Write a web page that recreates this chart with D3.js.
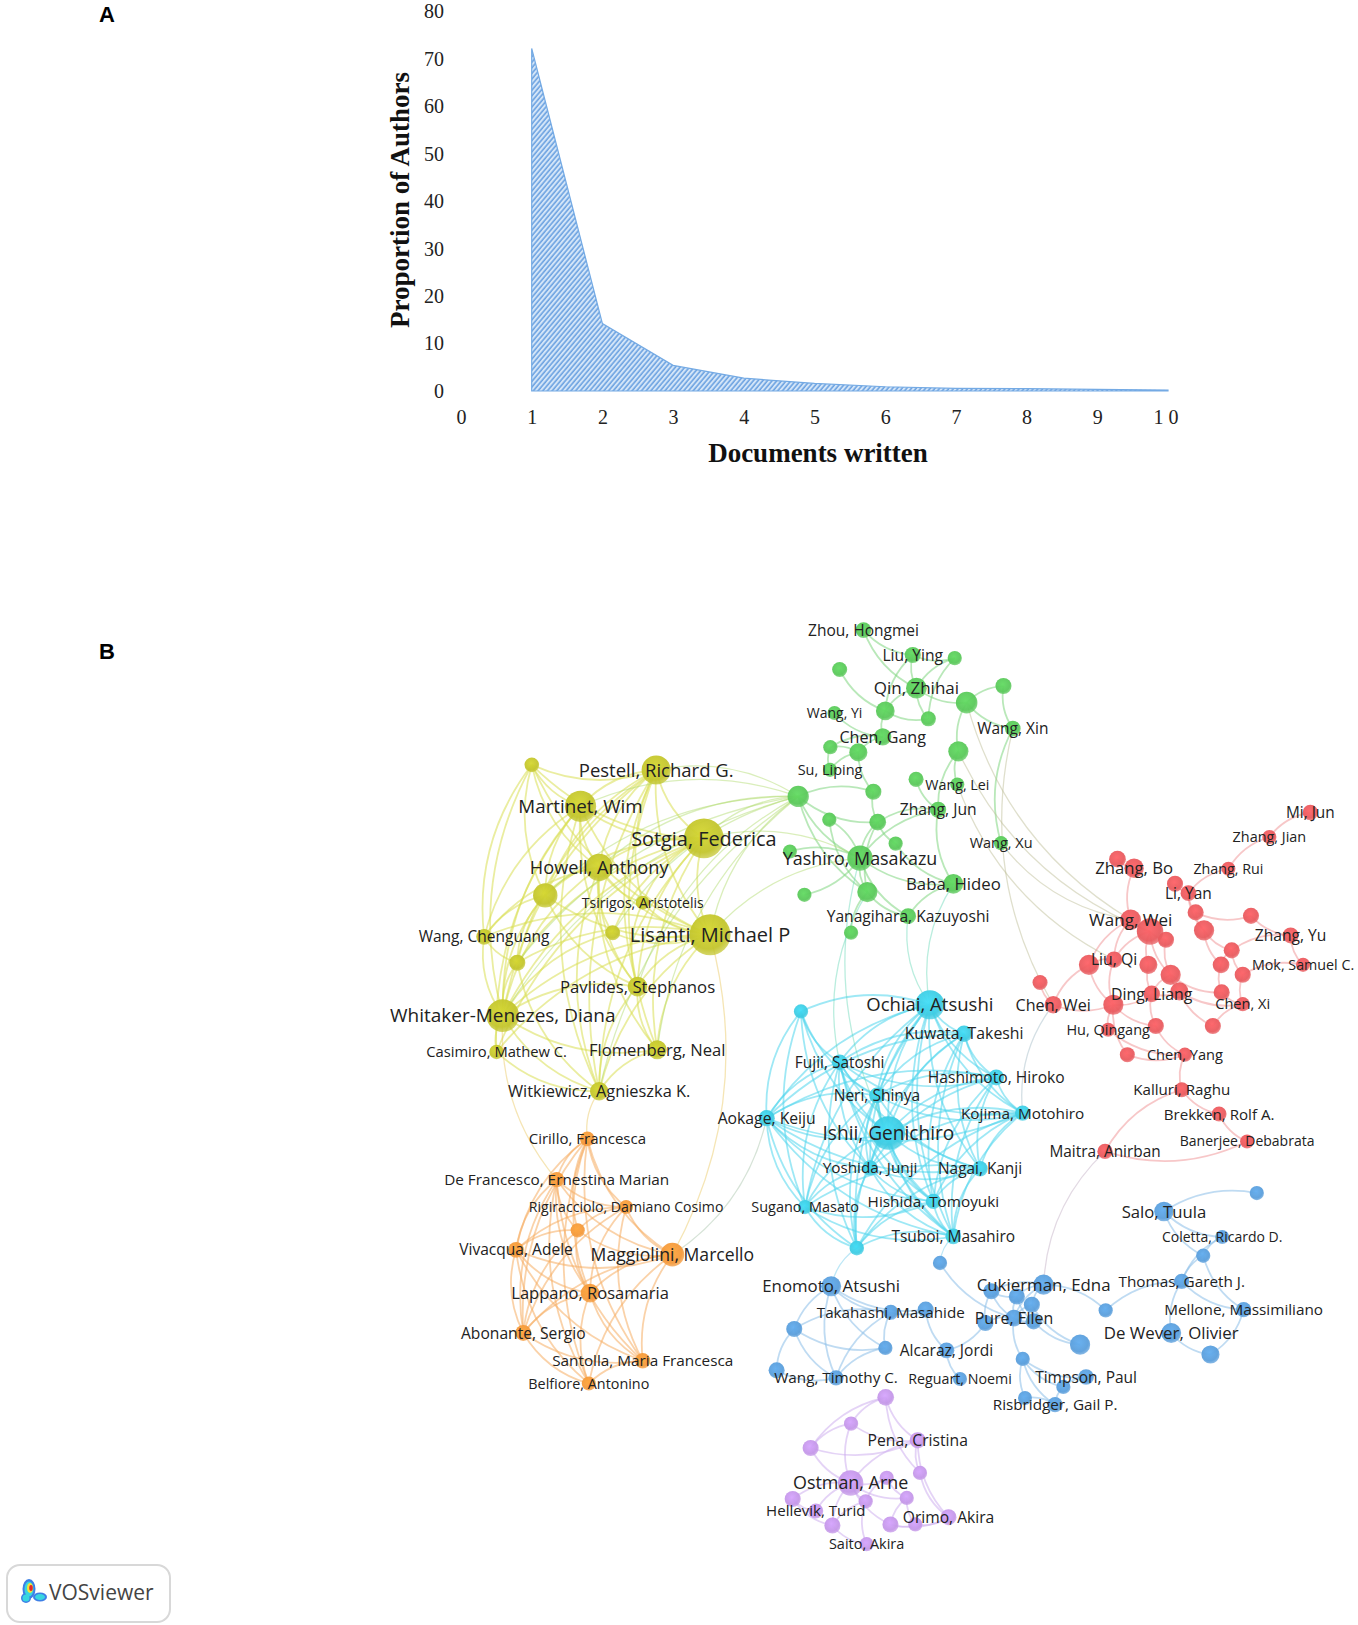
<!DOCTYPE html>
<html><head><meta charset="utf-8">
<script src="https://cdn.jsdelivr.net/npm/d3@7"></script>
<style>body{margin:0;background:#fff}svg{display:block}</style>
</head><body>
<svg id="chart" width="1358" height="1625"></svg>
<script>
// ---------- Panel A data ----------
const docsWritten = [1,2,3,4,5,6,7,8,9,10];
const authorShare = [72.2,14.2,5.4,2.7,1.6,0.9,0.55,0.5,0.35,0.2];
const xTickValues = [0,1,2,3,4,5,6,7,8,9,10];
const yTickValues = [0,10,20,30,40,50,60,70,80];

// ---------- Panel B data: [id, label, mapX, mapY, weight] ----------
const yellowNodes = [
 ["y1","",513,738,1.5],["y2","Pestell, Richard G.",633,743,7.5],["y3","Martinet, Wim",560,778,8],
 ["y4","Sotgia, Federica",679,809,9.8],["y5","Howell, Anthony",578,837,7],["y6","",526,864,6.2],
 ["y7","Tsirigos, Aristotelis",620,871,0],["y8","",591,900,2],["y9","Lisanti, Michael P",685,902,10],
 ["y10","Wang, Chenguang",467,904,2.5],["y11","",499,929,2.8],["y12","Pavlides, Stephanos",615,952,4.6],
 ["y13","Whitaker-Menezes, Diana",485,980,8.3],["y14","Casimiro, Mathew C.",479,1015,1.3],
 ["y15","Flomenberg, Neal",634,1013,4.3],["y16","Witkiewicz, Agnieszka K.",578,1053,4]
];
const greenNodes = [
 ["g1","Zhou, Hongmei",833,608,2.5],["g2","",810,646,2],["g3","Liu, Ying",880.5,632,2.8],["g4","",921,635,1],
 ["g5","Qin, Zhihai",884,664,5],["g6","",968,662,2.8],["g7","",932.5,678,5.3],["g8","",854,686,4.2],
 ["g9","Wang, Yi",805,688,0],["g10","",895.6,693.6,2],["g11","Wang, Xin",977,703,2.5],["g12","Chen, Gang",851.5,711,3.5],
 ["g13","",828,726,3.9],["g14","",801,721,1],["g15","",924.5,725,4.8],["g16","Su, Liping",800.7,742.8,0.8],
 ["g17","",842.5,764,2.8],["g18","",770,768.5,5.2],["g19","",883.7,752,2],["g20","Wang, Lei",923.5,757,0.5],
 ["g21","Zhang, Jun",905,781.4,2.8],["g22","",800,791,1],["g23","",846.7,793.3,3.2],["g24","",864,814,1],
 ["g25","Wang, Xu",965.7,813.6,0.8],["g26","Yashiro, Masakazu",829.6,828,6.5],["g27","",762,821.6,0],
 ["g28","Baba, Hideo",919.7,852.8,4.6],["g29","",836.7,860.8,4.8],["g30","",776,863.4,1],
 ["g31","Yanagihara, Kazuyoshi",876,884,2.7],["g32","",821,900,1]
];
const redNodes = [
 ["r1","Mi, Jun",1264,784,2.3],["r2","Zhang, Jian",1224.5,807.7,0.7],["r3","",1078,829,3.2],["r4","Zhang, Bo",1094,837.7,4.5],
 ["r5","Zhang, Rui",1185,838.3,0.5],["r6","",1133.5,852.8,2.8],["r7","Li, Yan",1146.4,861.8,2.5],["r8","",1153.4,880.4,2.8],
 ["r9","",1206.8,883.7,2.8],["r10","Wang, Wei",1090.7,887.5,5],["r11","",1109.4,898.8,6.8],["r12","",1161.5,897.8,4.8],
 ["r13","",1124.8,906.8,2.8],["r14","Zhang, Yu",1245,902.6,2.7],["r15","",1188.2,917,2.8],["r16","Liu, Qi",1074.7,926,3],
 ["r17","",1050.5,931,4.8],["r18","",1107.8,931,3.9],["r19","",1177.9,931,3.2],["r20","Mok, Samuel C.",1257,931,0.5],
 ["r21","",1198.8,940.6,2.8],["r22","",1129.3,940.6,4.8],["r23","",1003.3,948,2],["r24","Chen, Wei",1016,969.5,3.5],
 ["r25","",1074,969.5,4.8],["r26","Ding, Liang",1111,959,3.1],["r27","",1137.7,956.6,3.9],["r28","",1178.5,957.6,2.8],
 ["r29","Chen, Xi",1198.8,969,1],["r30","Hu, Qingang",1069,993.6,0.8],["r31","",1115,990,2.8],["r32","",1170,990,2.8],
 ["r33","",1087.5,1017.7,2],["r34","Chen, Yang",1143,1017.7,1],["r35","Kalluri, Raghu",1140,1051.5,1.9],
 ["r36","Brekken, Rolf A.",1176,1075,1.9],["r37","Maitra, Anirban",1066,1111,2.3],["r38","Banerjee, Debabrata",1203,1101.4,0]
];
const cyanNodes = [
 ["c1","Ochiai, Atsushi",897,969.5,7.5],["c2","",772.7,976,1],["c3","Kuwata, Takeshi",930,997.5,3],
 ["c4","Fujii, Satoshi",810,1025,2.4],["c5","Hashimoto, Hiroko",961,1039.6,2.7],["c6","Neri, Shinya",846,1057,2.5],
 ["c7","Aokage, Keiju",739.6,1079,2.9],["c8","Kojima, Motohiro",986.5,1074,2.2],["c9","Ishii, Genichiro",857,1093.3,8.5],
 ["c10","Yoshida, Junji",839.3,1127,2.2],["c11","Nagai, Kanji",945.4,1127.7,2.3],["c12","Sugano, Masato",776.6,1164.7,0.8],
 ["c13","Hishida, Tomoyuki",900.4,1159.2,2.2],["c14","Tsuboi, Masahiro",919.6,1193,2.5],["c15","",826.5,1204.3,1.5]
];
const blueNodes = [
 ["b1","",906.8,1218.7,1],["b2","",1212.4,1151.2,1],["b3","Salo, Tuula",1122.8,1169,4.5],["b4","Coletta, Ricardo D.",1179,1193.6,0],
 ["b5","",1160.7,1211.7,1],["b6","Enomoto, Atsushi",801.8,1241.2,4.7],["b7","Cukierman, Edna",1006.7,1239.6,4.8],
 ["b8","",956.4,1246,2.8],["b9","",980.9,1251,2.8],["b10","",995.4,1259,2.8],["b11","Thomas, Gareth J.",1140,1236.4,2.2],
 ["b12","",1066.6,1264.4,1],["b13","Mellone, Massimiliano",1199.7,1263.7,2.2],["b14","Takahashi, Masahide",859.3,1266.3,2],
 ["b15","",893,1263.7,2.8],["b16","",766.2,1282.4,2.8],["b17","Pure, Ellen",978.1,1271.8,3.2],["b18","",950.6,1276.6,2.8],
 ["b19","",997.1,1275,2.8],["b20","De Wever, Olivier",1129.8,1286.2,4.7],["b21","",1041.9,1297.5,4.8],["b22","",1167.7,1307,3.9],
 ["b23","",854.1,1300.7,1],["b24","Alcaraz, Jordi",913,1303,2.6],["b25","",986.6,1311.3,1],["b26","",749.2,1322.3,2.8],
 ["b27","Wang, Timothy C.",806.5,1329.6,2.1],["b28","Reguart, Noemi",926.1,1330.6,0.4],["b29","Timpson, Paul",1047.7,1328.7,2.5],
 ["b30","",1025.8,1338.3,1],["b31","Risbridger, Gail P.",1017.8,1355.4,2.1],["b32","",988.8,1348.9,0]
];
const purpleNodes = [
 ["p1","",854.4,1348.3,3.2],["p2","",821,1373.7,1],["p3","",782,1397.2,2.8],["p4","Pena, Cristina",885.3,1389.8,2.8],
 ["p5","",887.5,1421.3,1],["p6","Ostman, Arne",820.6,1431,6.5],["p7","",855.4,1426,1],["p8","",874.7,1445.4,1],
 ["p9","",835.1,1448.7,1],["p10","",764.7,1446.4,2.8],["p11","Hellevik, Turid",787,1458,1.8],["p12","",803,1472,2.8],
 ["p13","",859,1471,2.8],["p14","",883,1471,1],["p15","Orimo, Akira",915,1464,2.7],["p16","Saito, Akira",836,1490,0.8]
];
const orangeNodes = [
 ["o1","Cirillo, Francesca",566.6,1099,1.7],["o2","De Francesco, Ernestina Marian",537,1138.3,2.2],
 ["o3","Rigiracciolo, Damiano Cosimo",604,1164.7,0.2],["o4","",557.3,1187.2,1],["o5","Vivacqua, Adele",497.8,1206,2.6],
 ["o6","Maggiolini, Marcello",648.6,1210.7,6],["o7","Lappano, Rosamaria",569.2,1247.7,4.2],["o8","Abonante, Sergio",504.8,1286.2,2.7],
 ["o9","Santolla, Maria Francesca",620,1313,2.2],["o10","Belfiore, Antonino",568,1335,0.6]
];

// ---------- links (adjacency) ----------
const yellowLinks = ["y1:y2,y3,y4,y5,y6,y9,y10,y13","y2:y3,y4,y5,y6,y7,y9,y11,y12,y13,y15,y16","y3:y4,y5,y6,y9,y10,y12,y13,y14,y16",
 "y4:y5,y6,y7,y8,y9,y11,y12,y13,y14,y15,y16","y5:y6,y7,y8,y9,y10,y12,y13,y15,y16","y6:y9,y10,y11,y12,y13",
 "y7:y9,y12","y8:y9,y13","y9:y10,y11,y12,y13,y14,y15,y16","y10:y11,y13","y11:y13,y16","y12:y13,y15,y16",
 "y13:y14,y15,y16","y14:y16","y15:y16"];
const greenLinks = ["g1:g3,g5","g2:g8","g3:g4,g5,g8","g4:g5,g10","g5:g7,g8,g10","g6:g7,g11","g7:g11,g15","g8:g10,g12",
 "g9:g12","g12:g13,g14","g13:g14,g16,g17","g14:g16","g11:g25","g15:g20,g21","g19:g21","g17:g18,g23","g18:g23,g26,g29",
 "g21:g23,g26,g28","g23:g24,g26,g29","g24:g28","g26:g28,g29,g22,g27,g31","g22:g29","g29:g31,g32","g28:g31","g30:g26"];
const redLinks = ["r1:r2","r2:r5","r5:r7","r3:r4","r4:r10","r6:r7","r7:r8,r12","r8:r9,r12","r9:r14","r10:r11,r16,r17",
 "r11:r13,r16,r18,r22","r13:r22","r12:r15,r19","r14:r15,r20","r15:r19,r21","r16:r17,r25","r17:r24,r25","r18:r26",
 "r22:r26,r27,r28","r19:r28","r20:r21","r21:r29","r25:r26,r30,r31,r33","r26:r27,r31","r27:r29,r32","r28:r29","r29:r32",
 "r23:r24","r24:r25","r30:r34","r31:r34","r33:r34","r34:r35","r35:r36,r37","r36:r38","r37:r38"];
const cyanLinks = ["c1:c2,c3,c4,c5,c6,c7,c8,c9,c10,c11,c12,c13,c14,c15","c2:c4,c6,c7,c9,c10,c12",
 "c3:c4,c5,c6,c7,c8,c9,c10,c11,c13,c14","c4:c5,c6,c7,c8,c9,c10,c11,c12,c13,c14,c15","c5:c6,c7,c8,c9,c10,c11,c13,c14",
 "c6:c7,c8,c9,c10,c11,c12,c13,c14,c15","c7:c8,c9,c10,c11,c12,c13,c14,c15","c8:c9,c10,c11,c13,c14,c15",
 "c9:c10,c11,c12,c13,c14,c15","c10:c11,c12,c13,c14,c15","c11:c12,c13,c14,c15","c12:c13,c14,c15","c13:c14,c15","c14:c15"];
const blueLinks = ["b2:b3","b3:b4,b5","b4:b5,b11","b5:b11,b13","b11:b13,b20,b12","b12:b7","b20:b22","b22:b13",
 "b6:b14,b15,b16,b23,b27","b14:b15,b16,b23,b27","b16:b23,b26,b27","b23:b27","b26:b27","b15:b24","b24:b28,b18",
 "b7:b8,b9,b10,b17","b8:b9,b17,b18","b9:b17,b19","b10:b17,b21","b17:b18,b19,b25","b19:b21",
 "b25:b29,b30,b31,b32","b29:b30","b30:b31","b31:b32","b1:b17"];
const purpleLinks = ["p1:p2,p3,p4,p5","p2:p3,p4,p6","p3:p4,p6","p4:p5,p6,p15","p5:p15","p6:p7,p8,p9,p10,p11,p12,p13",
 "p7:p8,p9","p8:p13,p14","p9:p12,p16","p10:p11,p12","p12:p16","p13:p14,p15","p14:p15"];
const orangeLinks = ["o1:o2,o3,o4,o5,o6,o7,o8,o9,o10","o2:o3,o4,o5,o6,o7,o8,o9,o10","o3:o4,o5,o6,o7,o8,o9",
 "o4:o5,o6,o7,o8","o5:o6,o7,o8,o9,o10","o6:o7,o8,o9,o10","o7:o8,o9,o10","o8:o9,o10","o9:o10"];
const crossLinks = ["g18:y2,y3,y4,y5,y6,y8,y9,y11,y12,y13,y15,y16","g26:y4,y9","y16:o1","y13:o2","o6:y9","o6:c7",
 "g31:c1","g26:c9","g28:c1","g29:c4","g25:r10","g15:r11","g20:r16","g11:r24","g7:r10","r37:b7","c15:b6","c14:b1","r24:c8"];

const clusterColors = {y:"#c3c52d", g:"#5ac85a", r:"#e85a5e", c:"#3ecbe2", b:"#5a9edb", p:"#c497e8", o:"#f4993a"};
const linkColors    = {y:"#d9de52", g:"#7fd67f", r:"#f0999b", c:"#4fd6ec", b:"#8bbde8", p:"#cdaeee", o:"#f6ad62"};

// ---------- drawing ----------
const svg = d3.select("#chart");
const defs = svg.append("defs");

// Panel letters
svg.append("text").attr("x",107).attr("y",22).attr("text-anchor","middle")
  .attr("font-family","Liberation Sans, Arial").attr("font-weight","bold").attr("font-size",22).text("A");
svg.append("text").attr("x",107).attr("y",659).attr("text-anchor","middle")
  .attr("font-family","Liberation Sans, Arial").attr("font-weight","bold").attr("font-size",22).text("B");

// Panel A
const xA = d3.scaleLinear().domain([0,10]).range([461,1168]);
const yA = d3.scaleLinear().domain([0,80]).range([391,11.5]);
const pat = defs.append("pattern").attr("id","hatch").attr("patternUnits","userSpaceOnUse")
  .attr("width",3.6).attr("height",3.6).attr("patternTransform","rotate(40)");
pat.append("rect").attr("width",3.6).attr("height",3.6).attr("fill","#d3e5f8");
pat.append("line").attr("x1",1).attr("y1",0).attr("x2",1).attr("y2",3.6).attr("stroke","#5f9ade").attr("stroke-width",1.4);

const areaData = docsWritten.map((k,i)=>({k:k, v:authorShare[i]}));
svg.append("path").datum(areaData)
  .attr("d", d3.area().x(d=>xA(d.k)).y0(yA(0)).y1(d=>yA(d.v)))
  .attr("fill","url(#hatch)").attr("stroke","#74aae4").attr("stroke-width",1.2);

const serif = "Liberation Serif, Times New Roman, serif";
const gx = svg.append("g").attr("transform",`translate(0,${yA(0)})`)
  .call(d3.axisBottom(xA).tickValues(xTickValues).tickSize(0).tickPadding(19).tickFormat(d3.format("d")));
gx.select(".domain").remove();
gx.selectAll("text").attr("font-family",serif).attr("font-size",20).attr("fill","#222")
  .filter(d=>d===10).attr("letter-spacing","5px");
const gy = svg.append("g").attr("transform","translate(444,0)")
  .call(d3.axisLeft(yA).tickValues(yTickValues).tickSize(0).tickPadding(0));
gy.select(".domain").remove();
gy.selectAll("text").attr("font-family",serif).attr("font-size",20).attr("fill","#222");

svg.append("text").attr("transform","translate(400,200) rotate(-90)").attr("text-anchor","middle").attr("dy","0.35em")
  .attr("font-family",serif).attr("font-weight","bold").attr("font-size",27).attr("fill","#111").text("Proportion of Authors");
svg.append("text").attr("x",818).attr("y",462).attr("text-anchor","middle")
  .attr("font-family",serif).attr("font-weight","bold").attr("font-size",27).attr("fill","#111").text("Documents written");

// Panel B
const sx = d3.scaleLinear().domain([0,1310]).range([0,1358]);
const sy = d3.scaleLinear().domain([0,1568]).range([0,1625]);
const rScale = d3.scalePow().exponent(2).domain([0,10]).range([7,20.5]);
const fScale = d3.scaleLinear().domain([0,10]).range([14,20]);

const allGroups = [yellowNodes,greenNodes,redNodes,cyanNodes,blueNodes,purpleNodes,orangeNodes];
const nodes = [];
allGroups.forEach(arr => arr.forEach(d => nodes.push({id:d[0], label:d[1], x:d[2], y:d[3], w:d[4], cl:d[0][0]})));
const byId = new Map(nodes.map(n=>[n.id,n]));

const links = [];
function parse(list, cross){
  list.forEach(s=>{ const [a,bs]=s.split(":"); bs.split(",").forEach(b=>links.push({s:byId.get(a), t:byId.get(b), cross})); });
}
[yellowLinks,greenLinks,redLinks,cyanLinks,blueLinks,purpleLinks,orangeLinks].forEach(l=>parse(l,false));
parse(crossLinks,true);

function arcPath(l){
  const x1=sx(l.s.x), y1=sy(l.s.y), x2=sx(l.t.x), y2=sy(l.t.y);
  const dx=x2-x1, dy=y2-y1, k=0.2;
  const cx=(x1+x2)/2 - dy*k, cy=(y1+y2)/2 + dx*k;
  return `M${x1},${y1}Q${cx},${cy} ${x2},${y2}`;
}
const gl = svg.append("g").attr("fill","none");
gl.selectAll("path").data(links).join("path").attr("d",arcPath)
  .attr("stroke", l => l.cross ? d3.interpolateRgb(linkColors[l.s.cl], linkColors[l.t.cl])(0.5) : linkColors[l.s.cl])
  .attr("stroke-opacity", l => l.cross ? 0.45 : (l.s.cl==="y"||l.s.cl==="c" ? 0.55 : 0.55))
  .attr("stroke-width", l => l.cross ? 1.3 : 1.8);

Object.keys(clusterColors).forEach(k=>{
  const c = clusterColors[k];
  const rg = defs.append("radialGradient").attr("id","rg-"+k).attr("cx","45%").attr("cy","40%").attr("r","60%");
  rg.append("stop").attr("offset","0%").attr("stop-color", d3.color(c).brighter(0.25));
  rg.append("stop").attr("offset","75%").attr("stop-color", c);
  rg.append("stop").attr("offset","100%").attr("stop-color", c).attr("stop-opacity",0.75);
});
const sorted = nodes.slice().sort((a,b)=>a.w-b.w);
svg.append("g").selectAll("circle").data(sorted).join("circle")
  .attr("cx",d=>sx(d.x)).attr("cy",d=>sy(d.y)).attr("r",d=>rScale(d.w))
  .attr("fill",d=>`url(#rg-${d.cl})`).attr("fill-opacity",0.95);

svg.append("g").selectAll("text").data(nodes.filter(d=>d.label)).join("text")
  .attr("x",d=>sx(d.x)).attr("y",d=>sy(d.y)).attr("dy","0.36em").attr("text-anchor","middle")
  .attr("font-family","Open Sans, sans-serif").attr("font-size",d=>fScale(d.w)).attr("fill","#222")
  .text(d=>d.label);

// VOSviewer badge
const badge = svg.append("g");
badge.append("rect").attr("x",7).attr("y",1565).attr("width",163).attr("height",57).attr("rx",13)
  .attr("fill","#fff").attr("stroke","#d8d8d8").attr("stroke-width",2);
const blob = [["#3d7fe6",29,1589,6.5,10],["#3d7fe6",26,1598,5,5],["#3d7fe6",40,1597,7,4.5],
  ["#38d6e0",29,1589,4.5,7.5],["#38d6e0",40,1597,5,3],["#38d6e0",26,1598,3.5,3.5],["#f3e23a",30,1588,3,5],["#e8262b",31,1588,1.8,3]];
badge.selectAll("ellipse").data(blob).join("ellipse")
  .attr("cx",d=>d[1]).attr("cy",d=>d[2]).attr("rx",d=>d[3]).attr("ry",d=>d[4]).attr("fill",d=>d[0]);
badge.append("text").attr("x",49).attr("y",1600).attr("font-family","Open Sans, sans-serif").attr("font-size",21)
  .attr("fill","#444").text("VOSviewer");
</script>
</body></html>
